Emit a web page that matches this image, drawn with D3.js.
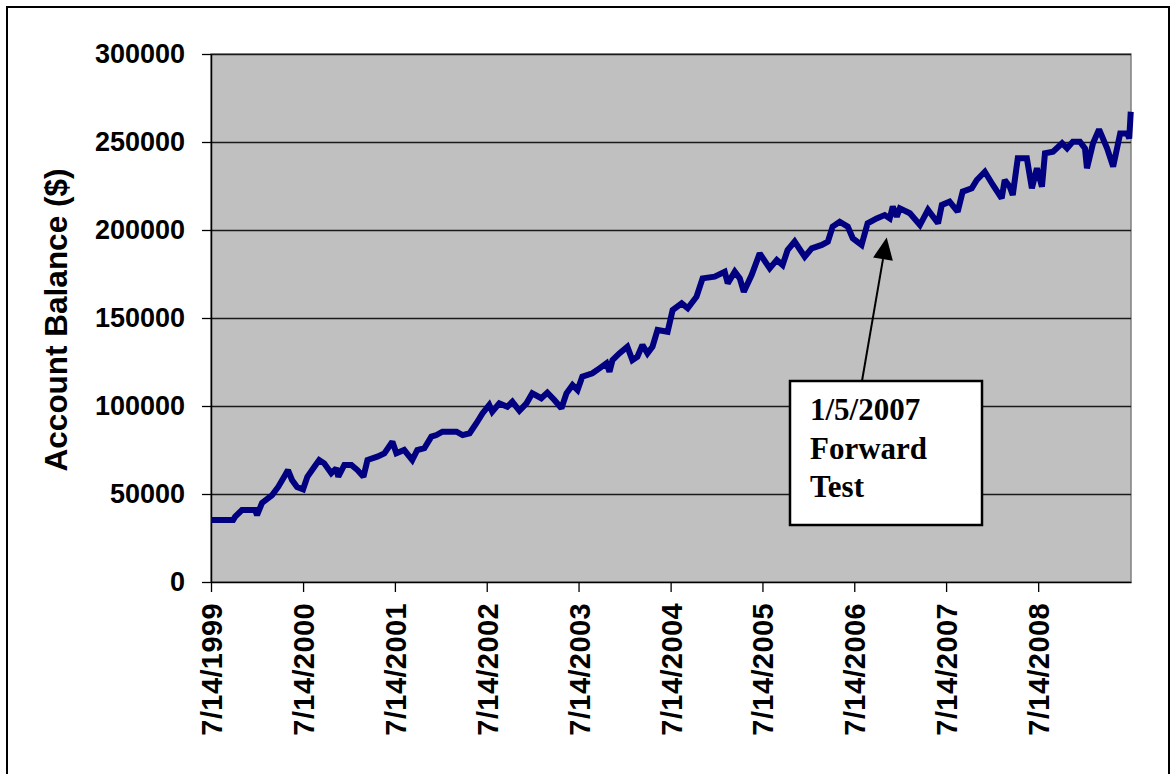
<!DOCTYPE html>
<html>
<head>
<meta charset="utf-8">
<script src="https://cdn.jsdelivr.net/npm/d3@7/dist/d3.min.js"></script>
<style>
  body { margin: 0; background: #fff; }
  svg { display: block; }
</style>
</head>
<body>
<div id="chart"></div>
<script>
// account balance
var dates = [
  "1999-07-14","1999-10-10","1999-10-18","1999-11-14","2000-01-05","2000-01-13","2000-02-02","2000-03-13",
  "2000-04-06","2000-05-04","2000-05-15","2000-05-31","2000-06-20","2000-07-14","2000-07-31","2000-08-28",
  "2000-09-16","2000-10-06","2000-11-03","2000-11-23","2000-12-01","2000-12-25","2001-01-22","2001-02-15",
  "2001-03-11","2001-03-27","2001-05-05","2001-06-02","2001-07-04","2001-07-20","2001-08-20","2001-09-21",
  "2001-10-11","2001-11-08","2001-12-06","2001-12-26","2002-01-19","2002-03-16","2002-04-09","2002-05-07",
  "2002-06-03","2002-06-27","2002-07-24","2002-08-05","2002-09-02","2002-10-04","2002-10-24","2002-11-21",
  "2002-12-19","2003-01-11","2003-02-16","2003-03-12","2003-04-09","2003-05-07","2003-05-27","2003-06-20",
  "2003-07-10","2003-07-29","2003-09-07","2003-10-05","2003-11-02","2003-11-14","2003-11-26","2003-12-23",
  "2004-01-24","2004-02-13","2004-03-04","2004-03-24","2004-04-13","2004-05-03","2004-05-23","2004-07-02",
  "2004-07-22","2004-08-27","2004-09-20","2004-10-25","2004-11-18","2005-01-05","2005-02-14","2005-02-26",
  "2005-03-26","2005-04-15","2005-05-01","2005-06-01","2005-07-03","2005-08-12","2005-09-09","2005-10-02",
  "2005-10-22","2005-11-19","2005-12-29","2006-01-26","2006-03-07","2006-03-31","2006-04-19","2006-05-17",
  "2006-06-18","2006-07-08","2006-08-12","2006-09-05","2006-10-11","2006-11-12","2006-12-02","2006-12-14",
  "2006-12-30","2007-01-11","2007-02-20","2007-04-01","2007-05-03","2007-06-12","2007-06-27","2007-07-28",
  "2007-08-29","2007-09-18","2007-10-24","2007-11-13","2007-12-15","2008-01-16","2008-02-20","2008-03-03",
  "2008-03-23","2008-04-04","2008-04-24","2008-05-30","2008-06-19","2008-07-09","2008-07-29","2008-08-10",
  "2008-09-11","2008-10-17","2008-11-06","2008-11-29","2008-12-27","2009-01-16","2009-01-24","2009-02-17",
  "2009-03-13","2009-04-14","2009-05-08","2009-06-05","2009-07-03","2009-07-11","2009-07-17"
];
var balance = [
  35200,35200,37100,40900,40900,38000,45000,49400,
  54000,60800,63600,58000,54000,52700,59800,65500,
  69300,67400,61800,64600,59800,66500,66500,63600,
  59800,69300,71200,73100,79700,73100,75000,69300,
  75000,76000,82600,83500,85400,85400,83500,84500,
  90200,95800,100600,96800,101500,99600,102400,97300,
  101500,107200,104400,107600,103400,98700,107200,111900,
  109100,116700,118600,121400,124300,119500,126100,129900,
  133700,126100,128000,134700,129900,133700,143200,142200,
  154500,158300,155500,162100,172500,173500,176300,169700,
  176300,172500,164900,174400,186700,178200,183000,180100,
  188600,193400,184800,189600,191500,193400,201900,204700,
  201900,195300,191500,203800,206600,208500,206600,213300,
  207600,212300,209500,202800,211400,203800,214200,216100,
  210400,221800,223700,228400,233100,225600,218000,228400,
  224600,219900,240800,240800,223700,235100,224600,243600,
  244500,249300,246400,250200,250200,246400,235100,249300,
  257200,246400,236000,254900,254900,252000,267200
];
var yTicks = [0, 50000, 100000, 150000, 200000, 250000, 300000];
var xTickDates = ["1999-07-14","2000-07-14","2001-07-14","2002-07-14","2003-07-14",
                  "2004-07-14","2005-07-14","2006-07-14","2007-07-14","2008-07-14"];
var noteLines = ["1/5/2007", "Forward", "Test"];
var noteDate = "2006-11-20";
var noteValue = 206000;

var parse = d3.timeParse("%Y-%m-%d");
var series = dates.map(function(d, i){ return {date: parse(d), value: balance[i]}; });

var outerWidth = 1176;
var outerHeight = 774;
var marginLeft = 211;
var marginTop = 54;
var plotRight = 1131;
var plotBottom = 582;

var x = d3.scaleTime()
        .domain([parse("1999-07-14"), parse("2009-07-18")])
        .range([marginLeft, plotRight]);

var y = d3.scaleLinear()
        .domain([0, 300000])
        .range([plotBottom, marginTop]);

var svg = d3.select("#chart").append("svg")
            .attr("width", outerWidth)
            .attr("height", outerHeight);

// outer frame
svg.append("rect")
    .attr("x", 7).attr("y", 7)
    .attr("width", 1162).attr("height", 800)
    .attr("fill", "none")
    .attr("stroke", "#000")
    .attr("stroke-width", 2);

// plot area
svg.append("rect")
    .attr("x", marginLeft).attr("y", marginTop)
    .attr("width", plotRight - marginLeft)
    .attr("height", plotBottom - marginTop)
    .attr("fill", "#c0c0c0")
    .attr("stroke", "#808080")
    .attr("stroke-width", 1.5);

// gridlines
svg.append("g")
    .selectAll("line")
    .data(yTicks.slice(1))
    .enter()
    .append("line")
    .attr("x1", marginLeft).attr("x2", plotRight)
    .attr("y1", function(d){ return y(d) + 0.5; })
    .attr("y2", function(d){ return y(d) + 0.5; })
    .attr("stroke", "#1a1a1a")
    .attr("stroke-width", 1.3);

var yAxis = svg.append("g")
    .attr("transform", "translate(" + marginLeft + ",0)")
    .call(d3.axisLeft(y).tickValues(yTicks).tickSize(9).tickSizeOuter(0)
        .tickPadding(17).tickFormat(d3.format("d")));

yAxis.select(".domain").attr("stroke", "#000").attr("stroke-width", 1.5);
yAxis.selectAll(".tick line").attr("stroke", "#000").attr("stroke-width", 1.3);
yAxis.selectAll("text")
    .attr("font-family", "Liberation Sans, Arial, sans-serif")
    .attr("font-weight", "bold")
    .attr("font-size", "27px")
    .attr("fill", "#000");

var xAxis = svg.append("g")
    .attr("transform", "translate(0," + plotBottom + ")")
    .call(d3.axisBottom(x)
        .tickValues(xTickDates.map(parse))
        .tickSize(10)
        .tickSizeOuter(0)
        .tickFormat(d3.timeFormat("%-m/%-d/%Y")));

xAxis.select(".domain").attr("stroke", "#000").attr("stroke-width", 1.5);
xAxis.selectAll(".tick line").attr("stroke", "#000").attr("stroke-width", 1.3);
xAxis.selectAll("text")
    .attr("font-family", "Liberation Sans, Arial, sans-serif")
    .attr("font-weight", "bold")
    .attr("font-size", "29px")
    .attr("letter-spacing", "0.4px")
    .attr("fill", "#000")
    .attr("text-anchor", "end")
    .attr("transform", "rotate(-90)")
    .attr("x", -21)
    .attr("y", 0)
    .attr("dy", "0.36em");

// y axis title
svg.append("text")
    .attr("transform", "translate(67,320) rotate(-90)")
    .attr("text-anchor", "middle")
    .attr("font-family", "Liberation Sans, Arial, sans-serif")
    .attr("font-weight", "bold")
    .attr("font-size", "31.5px")
    .text("Account Balance ($)");

// balance line
var line = d3.line()
    .x(function(d){ return x(d.date); })
    .y(function(d){ return y(d.value); });

svg.append("path")
    .datum(series)
    .attr("d", line)
    .attr("fill", "none")
    .attr("stroke", "#000080")
    .attr("stroke-width", 6)
    .attr("stroke-linejoin", "miter")
    .attr("stroke-miterlimit", 2);

// annotation
var boxX = 790, boxY = 381, boxW = 192, boxH = 144;
var tipX = x(parse(noteDate)), tipY = y(noteValue) + 18;
var baseX = 862, baseY = boxY;

var ang = Math.atan2(tipY - baseY, tipX - baseX);
var headLen = 22, headHalf = 10;
var hx = tipX - headLen * Math.cos(ang), hy = tipY - headLen * Math.sin(ang);

svg.append("line")
    .attr("x1", baseX).attr("y1", baseY)
    .attr("x2", hx).attr("y2", hy)
    .attr("stroke", "#000")
    .attr("stroke-width", 2);

svg.append("polygon")
    .attr("points", [
        [tipX, tipY],
        [hx + headHalf * Math.sin(ang), hy - headHalf * Math.cos(ang)],
        [hx - headHalf * Math.sin(ang), hy + headHalf * Math.cos(ang)]
    ].map(function(p){ return p.join(); }).join(" "))
    .attr("fill", "#000");

svg.append("rect")
    .attr("x", boxX).attr("y", boxY)
    .attr("width", boxW).attr("height", boxH)
    .attr("fill", "#fff")
    .attr("stroke", "#000")
    .attr("stroke-width", 2.5);

svg.append("g")
    .selectAll("text")
    .data(noteLines)
    .enter()
    .append("text")
    .attr("x", 810)
    .attr("y", function(d, i){ return 420 + i * 38.5; })
    .attr("font-family", "Liberation Serif, Times New Roman, serif")
    .attr("font-weight", "bold")
    .attr("font-size", "31px")
    .text(function(d){ return d; });
</script>
</body>
</html>
